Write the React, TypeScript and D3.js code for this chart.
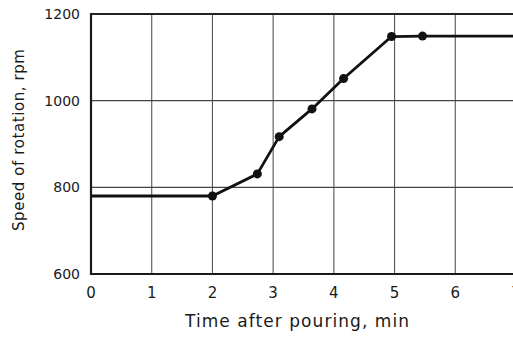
import { useEffect, useRef } from 'react';
import * as d3 from 'd3';

// Data
const timeMin = [0, 2.0, 2.74, 3.1, 3.64, 4.16, 4.95, 5.46, 7];
const speedRpm = [780, 780, 831, 917, 981, 1051, 1148, 1149, 1149];
// points with markers (the first and last entries are only line ends)
const markerIdx = [1, 2, 3, 4, 5, 6, 7];
const xTicks = [0, 1, 2, 3, 4, 5, 6, 7];
const yTicks = [600, 800, 1000, 1200];

const W = 513;
const H = 337;

export default function App() {
  const svgRef = useRef<SVGSVGElement>(null);

  useEffect(() => {
    const svg = d3.select(svgRef.current);
    svg.selectAll('*').remove();

    const x = d3.scaleLinear().domain([0, 7]).range([91, 516]);
    const y = d3.scaleLinear().domain([600, 1200]).range([274, 14]);
    const font = '"DejaVu Sans", Verdana, sans-serif';

    const pts = timeMin.map((t, i) => ({ t, v: speedRpm[i] }));

    // grid
    svg.append('g')
      .selectAll('line')
      .data(xTicks.slice(1))
      .enter()
      .append('line')
      .attr('x1', d => x(d)).attr('x2', d => x(d))
      .attr('y1', y(1200)).attr('y2', y(600))
      .attr('stroke', '#555')
      .attr('stroke-width', 1.1);

    svg.append('g')
      .selectAll('line')
      .data(yTicks.slice(1))
      .enter()
      .append('line')
      .attr('x1', x(0)).attr('x2', W)
      .attr('y1', d => y(d)).attr('y2', d => y(d))
      .attr('stroke', d => (d === 1200 ? '#222' : '#444'))
      .attr('stroke-width', d => (d === 1200 ? 2 : 1.4));

    // axes frame
    svg.append('line')
      .attr('x1', x(0)).attr('x2', x(0))
      .attr('y1', y(1200) - 1).attr('y2', y(600) + 1)
      .attr('stroke', '#1a1a1a').attr('stroke-width', 2.2);
    svg.append('line')
      .attr('x1', x(0) - 1).attr('x2', W)
      .attr('y1', y(600)).attr('y2', y(600))
      .attr('stroke', '#1a1a1a').attr('stroke-width', 2.2);

    // tick labels
    svg.append('g')
      .selectAll('text')
      .data(yTicks)
      .enter()
      .append('text')
      .attr('x', 80)
      .attr('y', d => y(d) + 5)
      .attr('text-anchor', 'end')
      .style('font-family', font)
      .style('font-size', '14px')
      .attr('fill', '#1a1a1a')
      .text(d => d);

    svg.append('g')
      .selectAll('text')
      .data(xTicks)
      .enter()
      .append('text')
      .attr('x', d => x(d))
      .attr('y', 298)
      .attr('text-anchor', 'middle')
      .style('font-family', font)
      .style('font-size', '15px')
      .attr('fill', '#1a1a1a')
      .text(d => d);

    // axis titles
    svg.append('text')
      .attr('x', 297)
      .attr('y', 327)
      .attr('text-anchor', 'middle')
      .attr('textLength', 224)
      .attr('lengthAdjust', 'spacing')
      .style('font-family', font)
      .style('font-size', '17px')
      .attr('fill', '#1a1a1a')
      .text('Time after pouring, min');

    svg.append('text')
      .attr('transform', `translate(24, ${140}) rotate(-90)`)
      .attr('text-anchor', 'middle')
      .attr('textLength', 182)
      .attr('lengthAdjust', 'spacing')
      .style('font-family', font)
      .style('font-size', '15px')
      .attr('fill', '#1a1a1a')
      .text('Speed of rotation, rpm');

    // curve
    const line = d3.line<{ t: number; v: number }>()
      .x(d => x(d.t))
      .y(d => y(d.v));

    svg.append('path')
      .datum(pts)
      .attr('fill', 'none')
      .attr('stroke', '#111')
      .attr('stroke-width', 2.8)
      .attr('stroke-linejoin', 'round')
      .attr('d', line);

    svg.append('g')
      .selectAll('circle')
      .data(markerIdx.map(i => pts[i]))
      .enter()
      .append('circle')
      .attr('cx', d => x(d.t))
      .attr('cy', d => y(d.v))
      .attr('r', 4.5)
      .attr('fill', '#111');
  }, []);

  return (
    <svg
      ref={svgRef}
      width={W}
      height={H}
      style={{ position: 'absolute', left: 0, top: 0, background: '#fff', overflow: 'hidden' }}
    />
  );
}
